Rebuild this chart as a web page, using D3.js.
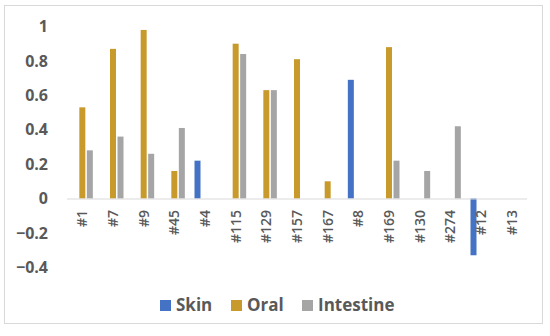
<!DOCTYPE html>
<html>
<head>
<meta charset="utf-8">
<script src="https://cdn.jsdelivr.net/npm/d3@7"></script>
<style>
  body { margin: 0; background: #fff; }
  text { font-family: "Open Sans", Lato, sans-serif; fill: #595959; }
</style>
</head>
<body>
<svg width="550" height="336"></svg>
<script>
var categories = ["#1","#7","#9","#45","#4","#115","#129","#157","#167","#8","#169","#130","#274","#12","#13"];
var skin      = [0, 0, 0, 0, 0.22, 0, 0, 0, 0, 0.69, 0, 0, 0, -0.33, 0];
var oral      = [0.53, 0.87, 0.98, 0.16, 0, 0.90, 0.63, 0.81, 0.10, 0, 0.88, 0, 0, 0, 0];
var intestine = [0.28, 0.36, 0.26, 0.41, 0, 0.84, 0.63, 0, 0, 0, 0.22, 0.16, 0.42, 0, 0];
var yTicks = [-0.4, -0.2, 0, 0.2, 0.4, 0.6, 0.8, 1];

var series = [
  {name: "Skin", values: skin, color: "#4472C4"},
  {name: "Oral", values: oral, color: "#C89A2C"},
  {name: "Intestine", values: intestine, color: "#A5A5A5"}
];

var svg = d3.select("svg");

// outer frame
svg.append("rect")
  .attr("x", 4.5).attr("y", 5.5)
  .attr("width", 538).attr("height", 318)
  .attr("fill", "none").attr("stroke", "#D9D9D9");

var x = d3.scaleBand().domain(categories).range([67, 527]);
var inner = d3.scaleBand().domain(series.map(function(s){ return s.name; }))
  .range([x.bandwidth()/2 - 10.5, x.bandwidth()/2 + 10.5]).paddingInner(0.2);
var y = d3.scaleLinear().domain([-0.4, 1]).range([267.3, 26.5]);

// y labels
svg.append("g").selectAll("text")
  .data(yTicks).enter().append("text")
  .attr("x", 48)
  .attr("y", function(d){ return y(d); })
  .attr("dy", "0.35em")
  .attr("text-anchor", "end")
  .style("font-size", "16px")
  .style("font-weight", "bold")
  .text(function(d){ return d3.format("")(+d.toFixed(1)); });

// bars
series.forEach(function(s){
  var rows = s.values.map(function(v, i){ return {cat: categories[i], v: v}; })
    .filter(function(r){ return r.v !== 0; });
  svg.append("g").selectAll("rect")
    .data(rows).enter().append("rect")
    .attr("x", function(r){ return x(r.cat) + inner(s.name); })
    .attr("width", inner.bandwidth())
    .attr("y", function(r){ return Math.min(y(r.v), y(0)); })
    .attr("height", function(r){ return Math.abs(y(r.v) - y(0)); })
    .attr("fill", s.color);
});

// zero line
svg.append("line")
  .attr("x1", 67).attr("x2", 527)
  .attr("y1", y(0) + 0.5).attr("y2", y(0) + 0.5)
  .attr("stroke", "#D9D9D9");

// x labels
svg.append("g").selectAll("text")
  .data(categories).enter().append("text")
  .attr("transform", function(d){
    return "translate(" + (x(d) + x.bandwidth()/2) + ",210) rotate(-90)";
  })
  .attr("dy", "0.35em")
  .attr("text-anchor", "end")
  .style("font-size", "14px")
  .style("font-weight", "600")
  .text(function(d){ return d; });

// legend
var legendX = [160, 231, 302];
var legend = svg.append("g").selectAll("g")
  .data(series).enter().append("g")
  .attr("transform", function(d, i){ return "translate(" + legendX[i] + ",300)"; });
legend.append("rect")
  .attr("width", 11).attr("height", 11)
  .attr("fill", function(d){ return d.color; });
legend.append("text")
  .attr("x", 16).attr("y", 5.5)
  .attr("dy", "0.35em")
  .style("font-size", "17px")
  .style("font-weight", "bold")
  .text(function(d){ return d.name; });
</script>
</body>
</html>
